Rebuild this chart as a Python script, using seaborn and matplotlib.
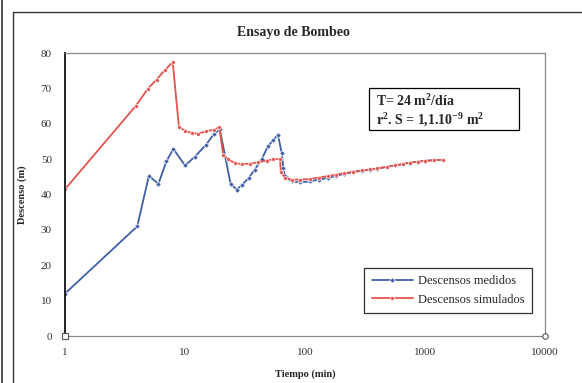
import matplotlib
matplotlib.use("Agg")
import matplotlib.pyplot as plt
import matplotlib.ticker as mticker
from matplotlib.patches import Rectangle
import pandas as pd
import seaborn as sns

# Descensos medidos (tiempo en min, descenso en m)
t_med = [1, 4, 5, 6, 7, 8, 10, 12, 15, 17.5, 19.5, 24, 27, 30, 34, 38, 43.5, 49,
         54, 59.5, 64, 66, 68, 78, 90, 110, 130, 155, 180, 210, 250, 300, 350,
         400, 480, 560, 650, 750, 880, 1000, 1200, 1400]
s_med = [12, 31, 45.3, 43, 49.4, 52.9, 48.2, 50.6, 54.1, 57.2, 58.4, 43, 41.4,
         42.8, 44.7, 47, 49.9, 53.6, 55.3, 56.9, 51.7, 47.5, 45.1, 43.7, 43.4,
         43.7, 44.2, 44.7, 45.2, 45.8, 46.3, 46.7, 47.0, 47.3, 47.8, 48.2, 48.6,
         49.0, 49.3, 49.5, 49.7, 49.8]

# Descensos simulados
t_sim = [1, 3.9, 4.9, 5.8, 6.8, 7.9, 8.9, 10, 11.4, 12.9, 15.1, 17.4, 19.3,
         20.8, 22.9, 26.1, 29.7, 34.9, 40.7, 47.8, 54.4, 62, 62.8, 68.3, 77.7,
         90, 110, 130, 155, 180, 210, 250, 300, 350, 400, 480, 560, 650, 750,
         880, 1000, 1200, 1400]
s_sim = [41.5, 65.1, 69.9, 72.5, 75.2, 77.4, 59.1, 58, 57.4, 57.2, 57.9, 58.3,
         59.1, 51.3, 49.9, 48.9, 48.6, 48.7, 49.1, 49.6, 49.9, 50.1, 46.5, 44.7,
         44.2, 44.2, 44.4, 44.8, 45.2, 45.6, 46.0, 46.4, 46.8, 47.1, 47.4, 47.8,
         48.2, 48.6, 49.0, 49.3, 49.5, 49.7, 49.8]

x_ticks = [1, 10, 100, 1000, 10000]
y_ticks = [0, 10, 20, 30, 40, 50, 60, 70, 80]

sns.set_style("white")
plt.rcParams["font.family"] = ["Liberation Serif", "DejaVu Serif"]
plt.rcParams["mathtext.fontset"] = "custom"
plt.rcParams["mathtext.rm"] = "Liberation Serif"
plt.rcParams["mathtext.bf"] = "Liberation Serif:bold"

blue = "#3f5fa6"
red = "#e4534d"

fig = plt.figure(figsize=(5.82, 3.83), dpi=100)
ax = fig.add_axes([0.1117, 0.1227, 0.8247, 0.7389])

df_med = pd.DataFrame({"t": t_med, "s": s_med})
df_sim = pd.DataFrame({"t": t_sim, "s": s_sim})
sns.lineplot(data=df_med, x="t", y="s", ax=ax, color=blue, marker="D",
             markersize=2.8, markeredgewidth=0.5, linewidth=1.3,
             label="Descensos medidos", estimator=None)
sns.lineplot(data=df_sim, x="t", y="s", ax=ax, color=red, marker="o",
             markersize=2.8, markeredgewidth=0.5, linewidth=1.3,
             label="Descensos simulados", estimator=None)

ax.set_xscale("log")
ax.set_xlim(1, 10000)
ax.set_ylim(0, 80)
ax.set_xticks(x_ticks)
ax.xaxis.set_major_formatter(mticker.FuncFormatter(lambda v, p: f"{v:g}"))
ax.xaxis.set_minor_locator(mticker.NullLocator())
ax.set_yticks(y_ticks)
ax.tick_params(axis="both", labelsize=8, colors="#333333", length=3,
               width=0.8, direction="inout")
ax.tick_params(axis="y", pad=8)
ax.tick_params(axis="x", pad=7)

for side in ["top", "right", "bottom"]:
    ax.spines[side].set_color("#888888")
    ax.spines[side].set_linewidth(0.9)
ax.spines["left"].set_color("#222222")
ax.spines["left"].set_linewidth(1.4)

# open markers at the axis ends
ax.plot([1], [0], marker="s", ms=4, mfc="white", mec="#555555", mew=0.8,
        clip_on=False, zorder=5)
ax.plot([10000], [0], marker="o", ms=4, mfc="white", mec="#555555", mew=0.8,
        clip_on=False, zorder=5)

fig.text(0.504, 0.916, "Ensayo de Bombeo", fontsize=10, fontweight="bold",
         ha="center", va="center")
ax.set_xlabel("Tiempo (min)", fontsize=7.5, fontweight="bold", labelpad=9)
ax.set_ylabel("Descenso (m)", fontsize=7.5, fontweight="bold", labelpad=10)

leg = ax.legend(loc="lower right", bbox_to_anchor=(0.973, 0.081), fontsize=9,
                frameon=True, fancybox=False, edgecolor="black",
                handlelength=3.3, borderpad=0.6, labelspacing=0.5,
                handletextpad=0.4, borderaxespad=0)
leg.get_frame().set_linewidth(0.9)

# parameter box
ax.add_patch(Rectangle((0.633, 0.728), 0.3125, 0.148, transform=ax.transAxes,
                       fc="white", ec="black", lw=0.9, zorder=4))
ax.text(0.648, 0.832, "T= 24 m$^{\\mathbf{2}}$/día", transform=ax.transAxes,
        fontsize=10, fontweight="bold", va="center", ha="left", zorder=5)
ax.text(0.648, 0.765, "r$^{\\mathbf{2}}$. S = 1,1.10$^{\\mathbf{-9}}$ m$^{\\mathbf{2}}$",
        transform=ax.transAxes, fontsize=10, fontweight="bold", va="center",
        ha="left", zorder=5)

# chart area border lines
fig.add_artist(plt.Line2D([0.022, 1.0], [0.969, 0.969], color="#333333", lw=1.0))
fig.add_artist(plt.Line2D([0.022, 0.022], [0.0, 0.969], color="#333333", lw=1.0))
fig.add_artist(plt.Line2D([0.004, 0.004], [0.0, 1.0], color="#333333", lw=1.2))

fig.savefig("out.png", dpi=100)
